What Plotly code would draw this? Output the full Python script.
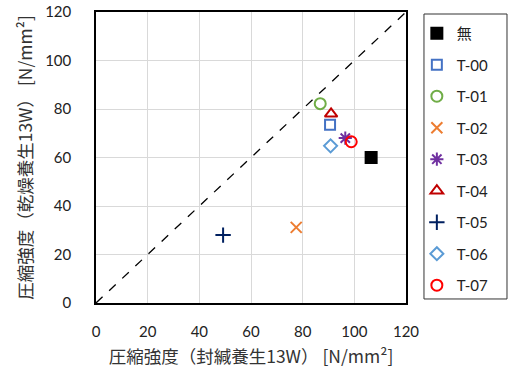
import plotly.graph_objects as go

names = ["無", "T-00", "T-01", "T-02", "T-03", "T-04", "T-05", "T-06", "T-07"]
x_sealed = [106.5, 90.6, 86.8, 77.5, 96.5, 91.0, 49.2, 90.8, 98.8]
y_dry = [60.0, 73.5, 82.2, 31.2, 68.0, 78.0, 28.0, 64.8, 66.5]
symbols = ["square", "square-open", "circle-open", "x-thin-open", "asterisk-open",
           "triangle-up-open", "cross-thin-open", "diamond-open", "circle-open"]
colors = ["#000000", "#4472C4", "#70AD47", "#ED7D31", "#7030A0",
          "#C00000", "#002060", "#5B9BD5", "#FF0000"]
sizes = [11, 10, 11, 11, 11, 11, 11, 10, 11]
diag = [0, 120]
ticks = [0, 20, 40, 60, 80, 100, 120]

fig = go.Figure()
fig.add_trace(go.Scatter(x=diag, y=diag, mode="lines", showlegend=False,
                         line=dict(color="black", width=1.3, dash="dash"),
                         hoverinfo="skip"))
for i, n in enumerate(names):
    fig.add_trace(go.Scatter(
        x=[x_sealed[i]], y=[y_dry[i]], mode="markers", name=n,
        legendgroup=n,
        marker=dict(symbol=symbols[i], size=sizes[i], color=colors[i],
                    line=dict(color=colors[i], width=2)),
    ))

axis_common = dict(range=[0, 120], tickvals=ticks, showgrid=True,
                   gridcolor="#D9D9D9", gridwidth=1, showline=True,
                   linecolor="black", linewidth=1.5, mirror=True,
                   zeroline=False, ticks="", automargin=False,
                   ticklabeloverflow="allow",
                   tickfont=dict(family="Lato, Open Sans, sans-serif", size=15, color="#222"))

fig.add_shape(type="rect", xref="paper", yref="paper",
              x0=1.058, x1=1.3258, y0=0.0138, y1=0.9931,
              line=dict(color="#333", width=1), fillcolor="rgba(0,0,0,0)")

fig.update_layout(
    width=508, height=376,
    margin=dict(l=96, r=102, t=12, b=73, autoexpand=False),
    plot_bgcolor="white", paper_bgcolor="white",
    xaxis=dict(**axis_common, ticklabelstandoff=14,
               title=dict(text="圧縮強度（封緘養生13W） [N/mm²]", standoff=12,
                          font=dict(family="Noto Sans CJK JP", size=17.5, color="#333"))),
    yaxis=dict(**axis_common, ticklabelstandoff=20,
               title=dict(text="圧縮強度（乾燥養生13W） [N/mm²]", standoff=8,
                          font=dict(family="Noto Sans CJK JP", size=17.5, color="#333"))),
    legend=dict(x=1.035, y=0.983, xanchor="left", yanchor="top",
                borderwidth=0, tracegroupgap=9, bgcolor="rgba(0,0,0,0)",
                font=dict(family="Lato, Noto Sans CJK JP, sans-serif", size=15, color="#222"),
                itemwidth=30),
)
fig.write_html("out.html", config={"displayModeBar": False},
               post_script="document.body.style.margin='0px';document.body.style.overflow='hidden';")
